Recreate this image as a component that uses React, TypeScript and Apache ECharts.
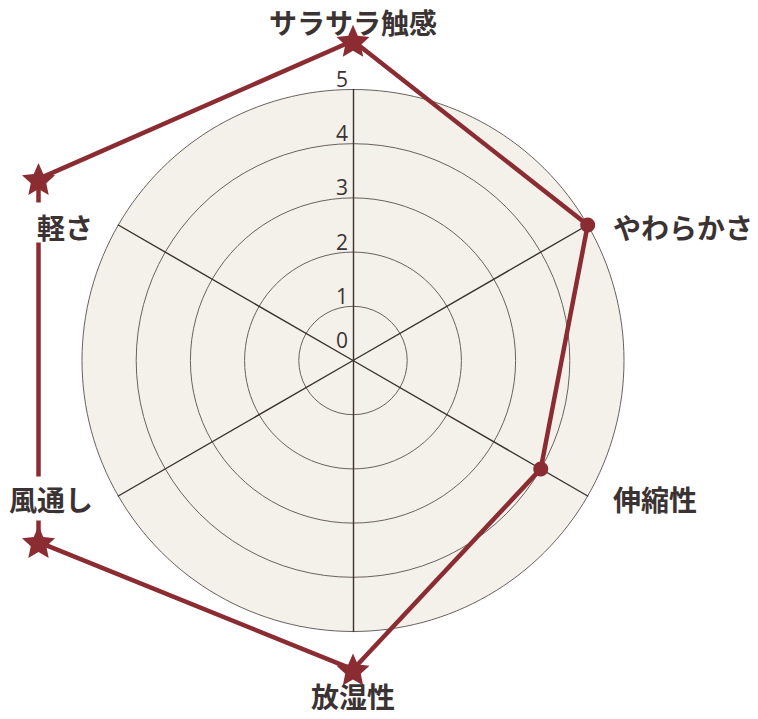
import { useEffect, useRef } from 'react';
import * as echarts from 'echarts';

// clockwise from the top
const indicators = ['サラサラ触感', 'やわらかさ', '伸縮性', '放湿性', '風通し', '軽さ'];
const scores = [5.9, 5, 4, 5.7, 6.7, 6.7];
const markers = ['star', 'circle', 'circle', 'star', 'star', 'star'];
const AXIS_MAX = 5;

const TEXT_COLOR = '#3b3333';
const LINE_COLOR = '#8b2c33';
const AREA_COLOR = '#f4f1ea';
const CENTER = [353, 360.5];
const RADIUS = 271;
// the hidden polar grid is larger so that points past the rim are not clipped
const POLAR_MAX = 7.5;

const STAR =
  'path://M50,0 L63.81,30.99 L97.55,34.55 L72.35,57.26 L79.39,90.45 L50,73.5 L20.61,90.45 L27.65,57.26 L2.45,34.55 L36.19,30.99 Z';

// echarts lays radar indicators out counter-clockwise
const RADAR_ORDER = [0, 5, 4, 3, 2, 1];

const nameBase = {
  fontSize: 28,
  fontWeight: 'bold',
  color: TEXT_COLOR,
  fontFamily: '"Noto Sans CJK JP", sans-serif',
};
const boxed = { ...nameBase, backgroundColor: '#ffffff' };
const gap = { ...nameBase, width: 18 };

function nameLabel(name: string) {
  switch (indicators.indexOf(name)) {
    case 0:
      return `{top|${name}}`;
    case 3:
      return `{bottom|${name}}`;
    case 1:
      return `{gap| }{rightHigh|${name}}`;
    case 2:
      return `{gap| }{right|${name}}`;
    case 5:
      return `{leftHigh|${name}}{gap| }`;
    default:
      return `{left|${name}}{gap| }`;
  }
}

const tickBase = { fontSize: 21, color: TEXT_COLOR, fontFamily: '"Open Sans", sans-serif' };

export default function App() {
  const ref = useRef<HTMLDivElement>(null);

  useEffect(() => {
    document.body.style.margin = '0';
    if (!ref.current) return;
    const chart = echarts.init(ref.current, undefined, { renderer: 'svg' });

    const radarIndicators = (withTicks: boolean) =>
      RADAR_ORDER.map((i) => ({
        name: indicators[i],
        min: 0,
        max: AXIS_MAX,
        axisLabel:
          withTicks && i === 0
            ? {
                show: true,
                ...tickBase,
                margin: 5,
                verticalAlign: 'bottom',
                formatter: (v: number) => (v === 0 ? `{z|${v}}` : `{n|${v}}`),
                rich: {
                  z: { ...tickBase, padding: [0, 0, 10, 0] },
                  n: { ...tickBase },
                },
              }
            : { show: false },
      }));

    chart.setOption({
      animation: false,
      radar: [
        {
          center: CENTER,
          radius: RADIUS,
          shape: 'circle',
          splitNumber: 5,
          axisName: { show: false },
          indicator: radarIndicators(true),
          splitArea: { areaStyle: { color: [AREA_COLOR] } },
          splitLine: { lineStyle: { color: '#6a6060', width: 1 } },
          axisLine: { lineStyle: { color: '#3a3030', width: 1.4 } },
        },
        {
          // names only, drawn above the data line
          z: 10,
          center: CENTER,
          radius: RADIUS,
          shape: 'circle',
          splitNumber: 5,
          axisNameGap: 5,
          axisName: {
            ...nameBase,
            formatter: nameLabel,
            rich: {
              top: { ...nameBase, padding: [0, 0, 49, 0] },
              bottom: { ...nameBase, padding: [45, 0, 0, 0] },
              rightHigh: { ...boxed, padding: [10, 3, 2, 3] },
              right: { ...boxed, padding: [6, 3, 6, 3] },
              leftHigh: { ...boxed, padding: [10, 3, 2, 3] },
              left: { ...boxed, padding: [8, 3, 8, 3] },
              gap,
            },
          },
          indicator: radarIndicators(false),
          splitArea: { show: false },
          splitLine: { show: false },
          axisLine: { show: false },
        },
      ],
      polar: { center: CENTER, radius: (RADIUS * POLAR_MAX) / AXIS_MAX },
      angleAxis: { type: 'value', min: 0, max: 360, startAngle: 90, clockwise: true, show: false },
      radiusAxis: { type: 'value', min: 0, max: POLAR_MAX, show: false },
      series: [
        {
          type: 'line',
          coordinateSystem: 'polar',
          clip: false,
          lineStyle: { color: LINE_COLOR, width: 4.5 },
          itemStyle: { color: LINE_COLOR },
          data: [
            ...indicators.map((_, i) => ({
              value: [scores[i], i * 60],
              symbol: markers[i] === 'star' ? STAR : 'circle',
              symbolSize: markers[i] === 'star' ? [33, 32] : 15,
            })),
            { value: [scores[0], 360], symbol: 'none' },
          ],
          z: 5,
        },
      ],
    });

    return () => chart.dispose();
  }, []);

  return <div ref={ref} style={{ width: 758, height: 719 }} />;
}
